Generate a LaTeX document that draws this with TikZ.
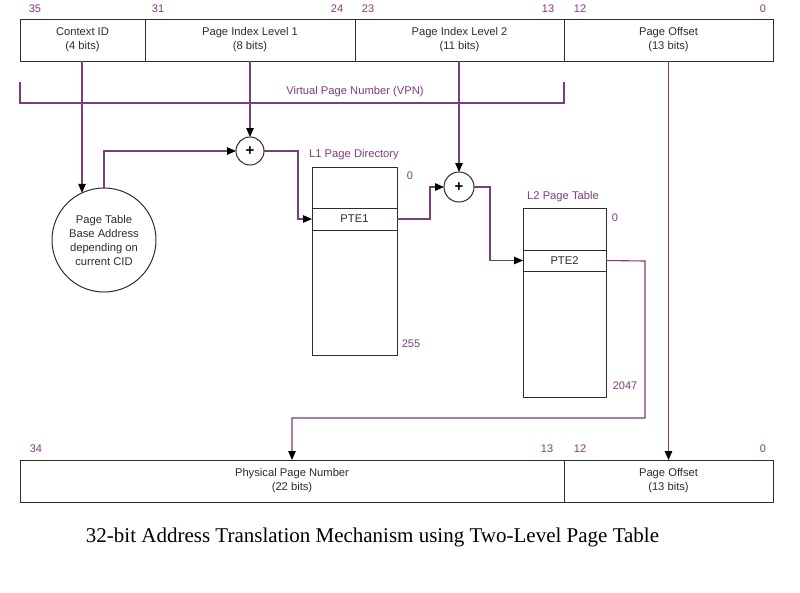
\documentclass[tikz,border=0pt]{standalone}
\usepackage{fontspec}
\setmainfont{Liberation Serif}
\setsansfont{Liberation Sans}
\usetikzlibrary{arrows.meta}
\definecolor{wirec}{RGB}{122,62,122}
\definecolor{numc}{RGB}{128,60,128}
\definecolor{txtc}{RGB}{45,45,45}
\definecolor{edgec}{RGB}{45,45,45}
\begin{document}
\begin{tikzpicture}[x=1pt,y=-1pt]
    \tikzset{
      field/.style={draw=edgec,line width=1pt,inner sep=0,outer sep=0,
        minimum height=42pt,align=center,text=txtc,
        font=\sffamily\fontsize{11.2}{14}\selectfont},
      table/.style={draw=edgec,line width=1pt,inner sep=0,outer sep=0,
        minimum width=#1,fill=white},
      entry/.style={table=#1,minimum height=22pt,text=txtc,
        font=\sffamily\fontsize{11.2}{14}\selectfont},
      adder/.style={circle,draw=edgec,line width=1pt,inner sep=0,outer sep=0,
        minimum size=#1,fill=white,font=\sffamily\bfseries\fontsize{15}{15}\selectfont},
      bitno/.style={text=numc,font=\sffamily\fontsize{11}{12}\selectfont},
      title/.style={text=numc,font=\sffamily\fontsize{11.2}{12}\selectfont},
      wire/.style={draw=wirec,line width=1.1pt},
      arr/.style={wire,-{Triangle[length=9pt,width=7.5pt,color=black]}}
    }
    \useasboundingbox[fill=white] (0,0) rectangle (800,592);

    %VIRTUAL ADDRESS
    \node[field,minimum width=125pt] (cid) at (82.5,40) {Context ID\\(4 bits)};
    \node[field,minimum width=210pt] (pil1) at (250,40) {Page Index Level 1\\(8 bits)};
    \node[field,minimum width=209pt] (pil2) at (459.5,40) {Page Index Level 2\\(11 bits)};
    \node[field,minimum width=209pt] (poff) at (668.5,40) {Page Offset\\(13 bits)};
    \foreach \x/\b in {35/35,158/31,337/24,368/23,548/13,580/12,763/0}
      \node[bitno] at (\x,9) {\b};

    %VPN BRACKET
    \draw[wire] (20,82) -- (20,103) -- (564,103) -- (564,82);
    \node[title] (vpn) at (355,92) {Virtual Page Number (VPN)};

    %BASE ADDRESS
    \node[field,circle,minimum size=104pt,fill=white] (base) at (104,240)
      {Page Table\\Base Address\\depending on\\current CID};

    %ADDERS
    \node[adder=28pt] (plus1) at (250,151) {+};
    \node[adder=30pt] (plus2) at (459,187) {+};

    %L1 PAGE DIRECTORY
    \node[table=85pt,minimum height=188pt] (l1) at (354.5,261) {};
    \node[entry=85pt] (pte1) at (354.5,219) {PTE1};
    \node[title] (l1t) at (354,155) {L1 Page Directory};
    \node[bitno] (l1a) at (410,176) {0};
    \node[bitno] (l1b) at (411,344) {255};

    %L2 PAGE TABLE
    \node[table=83pt,minimum height=189pt] (l2) at (564.5,302.5) {};
    \node[entry=83pt,minimum height=21pt] (pte2) at (564.5,260.5) {PTE2};
    \node[title] (l2t) at (563,197) {L2 Page Table};
    \node[bitno] (l2a) at (615,218) {0};
    \node[bitno] (l2b) at (625,386) {2047};

    %PHYSICAL ADDRESS
    \node[field,minimum width=544pt] (ppn) at (292,481) {Physical Page Number\\(22 bits)};
    \node[field,minimum width=209pt] (poff2) at (668.5,481) {Page Offset\\(13 bits)};
    \foreach \x/\b in {36/34,547/13,580/12,763/0}
      \node[bitno] at (\x,449) {\b};

    %CONNECTIONS
    \coordinate (j1) at (298,151);
    \coordinate (j2) at (430,219);
    \coordinate (j3) at (490,187);
    \coordinate (j4) at (645,261);
    \coordinate (j5) at (645,418);
    \draw[arr] (base.115 |- cid.south) -- (base.115);
    \draw[arr] (base.north) |- (plus1.west);
    \draw[arr] (pil1.south) -- (plus1.north);
    \draw[arr] (plus1.east) -- (j1) |- (pte1.west);
    \draw[arr] (pte1.east) -- (j2) |- (plus2.west);
    \draw[arr] (pil2.south -| plus2.north) -- (plus2.north);
    \draw[arr] (plus2.east) -- (j3) |- (pte2.west);
    \draw[arr] (pte2.east) -- (j4) -- (j5) -| (ppn.north);
    \draw[arr] (poff.south) -- (poff2.north);

    \node[font=\rmfamily\fontsize{21}{24}\selectfont] (cap) at (372.5,537)
      {32-bit Address Translation Mechanism using Two-Level Page Table};
\end{tikzpicture}
\end{document}
